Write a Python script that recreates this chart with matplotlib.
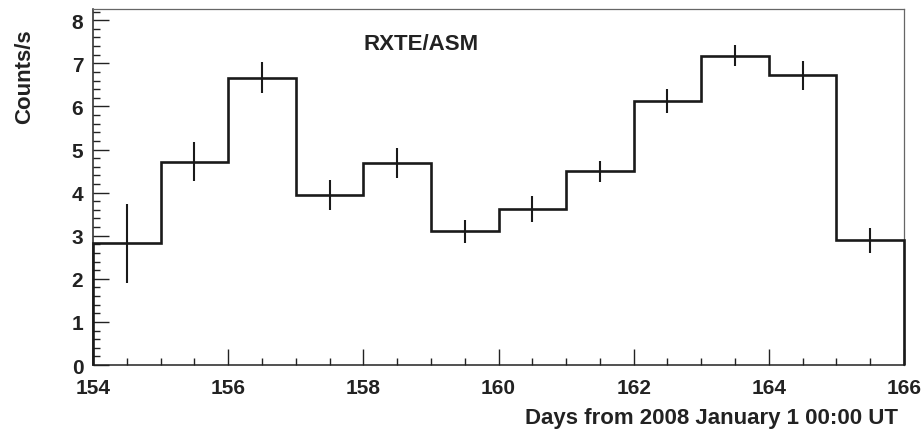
import numpy as np
import matplotlib
matplotlib.use('Agg')
import matplotlib.pyplot as plt
from matplotlib.ticker import MultipleLocator

plt.rcParams['font.family'] = ['Liberation Sans', 'DejaVu Sans']
plt.rcParams['font.weight'] = 'bold'

# one-day bins, 2008 days 154..166
bin_edges = [154, 155, 156, 157, 158, 159, 160, 161, 162, 163, 164, 165, 166]
rate = [2.82, 4.72, 6.67, 3.94, 4.69, 3.10, 3.62, 4.49, 6.13, 7.18, 6.72, 2.89]
rate_err = [0.92, 0.46, 0.37, 0.35, 0.35, 0.26, 0.30, 0.24, 0.28, 0.25, 0.33, 0.30]

edges = np.array(bin_edges, dtype=float)
centers = 0.5 * (edges[:-1] + edges[1:])

fig = plt.figure(figsize=(9.23, 4.31), dpi=100)
ax = fig.add_axes([0.1008, 0.1508, 0.8786, 0.826])

ax.stairs(rate, edges, baseline=0, color='#1a1a1a', lw=1.9, clip_on=False, zorder=3)
ax.errorbar(centers, rate, yerr=rate_err, fmt='none', ecolor='#1a1a1a',
            elinewidth=1.5, capsize=0)

ax.set_xlim(154, 166)
ax.set_ylim(0, 8.26)

ax.xaxis.set_major_locator(MultipleLocator(2))
ax.xaxis.set_minor_locator(MultipleLocator(0.5))
ax.yaxis.set_major_locator(MultipleLocator(1))
ax.yaxis.set_minor_locator(MultipleLocator(0.2))

ax.tick_params(which='both', direction='in', top=False, right=False,
               colors='#222222', width=1.0, labelsize=15)
ax.tick_params(which='major', length=11.3)
ax.tick_params(which='minor', length=5.2)
ax.tick_params(axis='x', pad=9)
ax.tick_params(axis='y', pad=7)

for side in ('top', 'right'):
    ax.spines[side].set_color('#666666')
    ax.spines[side].set_linewidth(0.9)
for side in ('left', 'bottom'):
    ax.spines[side].set_color('#222222')
    ax.spines[side].set_linewidth(1.1)

ax.text(0.993, -0.148, 'Days from 2008 January 1 00:00 UT', transform=ax.transAxes,
        ha='right', va='center', fontsize=16, fontweight='bold', color='#222222')
ax.text(-0.0838, 0.945, 'Counts/s', transform=ax.transAxes, rotation=90,
        ha='center', va='top', fontsize=16, fontweight='bold', color='#222222')
ax.text(158.0, 7.45, 'RXTE/ASM', ha='left', va='center', fontsize=16,
        fontweight='bold', color='#222222')

fig.savefig('out.png', dpi=100)
